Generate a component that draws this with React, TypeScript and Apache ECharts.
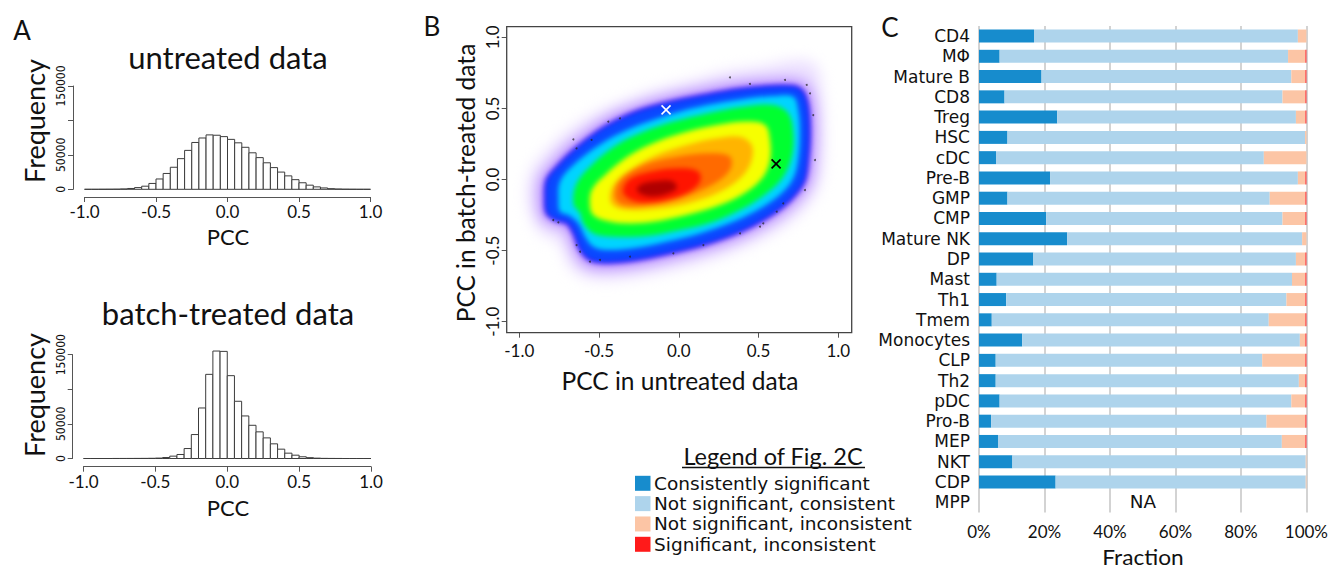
import React, { useEffect, useRef } from "react";
import * as echarts from "echarts";

// ---------- Panel A: histograms ----------
const BIN_WIDTH = 0.05;
const BIN_STARTS = [
  -1.0, -0.95, -0.9, -0.85, -0.8, -0.75, -0.7, -0.65, -0.6, -0.55,
  -0.5, -0.45, -0.4, -0.35, -0.3, -0.25, -0.2, -0.15, -0.1, -0.05,
  0.0, 0.05, 0.1, 0.15, 0.2, 0.25, 0.3, 0.35, 0.4, 0.45,
  0.5, 0.55, 0.6, 0.65, 0.7, 0.75, 0.8, 0.85, 0.9, 0.95,
];
const UNTREATED_COUNTS = [
  0, 0, 50, 100, 200, 500, 1200, 2500, 4500, 8500,
  15000, 23000, 32000, 44500, 56500, 68000, 74500, 79000, 78500, 76500,
  72500, 67500, 61000, 53000, 46000, 38500, 31500, 25000, 19500, 14000,
  9500, 6000, 3500, 2000, 900, 400, 150, 50, 0, 0,
];
const BATCH_COUNTS = [
  0, 0, 0, 0, 50, 80, 100, 150, 200, 300,
  600, 1400, 3400, 5800, 14400, 34600, 73000, 121600, 155300, 154800,
  119700, 82700, 61500, 48000, 38500, 29800, 21200, 13500, 7700, 4800,
  2500, 1200, 500, 200, 100, 50, 0, 0, 0, 0,
];
const FREQ_TICK_LABELS = ["0", "50000", "", "150000"];

// ---------- Panel B: density contours (data coordinates) ----------
const HAZE = [
  [-0.95, -0.15], [-0.93, 0.05], [-0.85, 0.18], [-0.72, 0.32], [-0.55, 0.45], [-0.35, 0.55],
  [-0.15, 0.63], [0.1, 0.7], [0.3, 0.76], [0.55, 0.8], [0.75, 0.84], [0.86, 0.8], [0.9, 0.6],
  [0.91, 0.3], [0.9, 0.05], [0.85, -0.12], [0.75, -0.25], [0.6, -0.37], [0.4, -0.48],
  [0.15, -0.58], [-0.1, -0.65], [-0.35, -0.7], [-0.55, -0.7], [-0.68, -0.62], [-0.75, -0.45],
  [-0.88, -0.36],
];
const PURPLE = [
  [-0.88, -0.15], [-0.87, 0.0], [-0.8, 0.11], [-0.69, 0.24], [-0.54, 0.37], [-0.41, 0.46],
  [-0.25, 0.53], [-0.06, 0.59], [0.15, 0.64], [0.36, 0.68], [0.57, 0.7], [0.73, 0.7],
  [0.81, 0.66], [0.85, 0.52], [0.86, 0.33], [0.85, 0.14], [0.83, -0.01], [0.77, -0.12],
  [0.68, -0.22], [0.55, -0.32], [0.37, -0.42], [0.16, -0.5], [-0.05, -0.56], [-0.26, -0.61],
  [-0.46, -0.63], [-0.58, -0.61], [-0.65, -0.52], [-0.69, -0.4], [-0.72, -0.34], [-0.79, -0.32],
  [-0.86, -0.27],
];
const BLUE = [
  [-0.839, -0.144], [-0.829, -0.003], [-0.766, 0.09], [-0.661, 0.207], [-0.515, 0.336],
  [-0.39, 0.418], [-0.243, 0.489], [-0.055, 0.547], [0.154, 0.594], [0.363, 0.634],
  [0.572, 0.657], [0.718, 0.657], [0.78, 0.618], [0.812, 0.512], [0.822, 0.325],
  [0.812, 0.137], [0.791, -0.004], [0.739, -0.097], [0.655, -0.191], [0.53, -0.285],
  [0.363, -0.379], [0.154, -0.461], [-0.055, -0.519], [-0.264, -0.566], [-0.452, -0.585],
  [-0.557, -0.566], [-0.619, -0.496], [-0.661, -0.379], [-0.703, -0.308], [-0.776, -0.285],
  [-0.829, -0.238],
];
const CYAN = [
  [-0.755, -0.156], [-0.745, -0.015], [-0.661, 0.102], [-0.515, 0.231], [-0.369, 0.325],
  [-0.222, 0.395], [-0.034, 0.465], [0.175, 0.524], [0.384, 0.563], [0.593, 0.587],
  [0.718, 0.582], [0.749, 0.489], [0.76, 0.325], [0.749, 0.137], [0.718, 0.008],
  [0.655, -0.086], [0.53, -0.191], [0.342, -0.297], [0.133, -0.379], [-0.076, -0.438],
  [-0.285, -0.484], [-0.452, -0.496], [-0.536, -0.473], [-0.588, -0.402], [-0.63, -0.308],
  [-0.692, -0.25], [-0.745, -0.226],
];
const GREEN = [
  [-0.661, -0.168], [-0.64, -0.027], [-0.536, 0.113], [-0.39, 0.243], [-0.222, 0.336],
  [-0.034, 0.407], [0.175, 0.465], [0.405, 0.512], [0.593, 0.524], [0.687, 0.465],
  [0.718, 0.325], [0.708, 0.16], [0.655, 0.02], [0.551, -0.097], [0.405, -0.203],
  [0.217, -0.297], [0.008, -0.355], [-0.201, -0.397], [-0.41, -0.402], [-0.536, -0.379],
  [-0.599, -0.308], [-0.619, -0.238],
];
const YELLOW = [
  [-0.557, -0.191], [-0.546, -0.074], [-0.452, 0.043], [-0.306, 0.172], [-0.139, 0.266],
  [0.049, 0.336], [0.238, 0.383], [0.426, 0.407], [0.541, 0.383], [0.572, 0.278],
  [0.572, 0.137], [0.53, 0.02], [0.426, -0.086], [0.259, -0.18], [0.049, -0.25],
  [-0.16, -0.297], [-0.348, -0.308], [-0.473, -0.285], [-0.536, -0.25],
];
const ORANGE = [
  [-0.431, -0.144], [-0.41, -0.039], [-0.306, 0.067], [-0.139, 0.172], [0.049, 0.243],
  [0.238, 0.29], [0.384, 0.301], [0.457, 0.243], [0.457, 0.137], [0.405, 0.032],
  [0.28, -0.074], [0.091, -0.156], [-0.118, -0.203], [-0.306, -0.215], [-0.4, -0.191],
];
const ORANGE_RED = [
  [-0.4, -0.121], [-0.369, -0.004], [-0.222, 0.102], [-0.013, 0.16], [0.196, 0.184],
  [0.321, 0.16], [0.321, 0.067], [0.207, -0.039], [0.008, -0.133], [-0.201, -0.18],
  [-0.348, -0.18],
];
const RED = [
  [-0.348, -0.097], [-0.316, -0.004], [-0.181, 0.055], [0.008, 0.079], [0.123, 0.055],
  [0.133, -0.015], [0.049, -0.097], [-0.118, -0.156], [-0.264, -0.156],
];
const DARK_RED = [
  [-0.264, -0.074], [-0.222, -0.027], [-0.118, -0.008], [-0.034, -0.015], [-0.013, -0.062],
  [-0.097, -0.109], [-0.201, -0.116],
];
const OUTLIERS = [
  [-0.661, 0.282], [-0.641, 0.219], [-0.547, 0.278], [-0.442, 0.407], [-0.369, 0.43],
  [0.321, 0.718], [0.446, 0.672], [0.666, 0.7], [0.802, 0.665], [0.823, 0.606],
  [0.843, 0.453], [0.854, 0.137], [0.791, -0.074], [0.655, -0.168], [0.614, -0.226],
  [0.53, -0.308], [0.509, -0.332], [0.384, -0.379], [0.154, -0.461], [-0.034, -0.519],
  [-0.306, -0.543], [-0.494, -0.566], [-0.557, -0.578], [-0.641, -0.461], [-0.619, -0.508],
  [-0.787, -0.285], [-0.755, -0.301],
];
const MARKERS = [
  [-0.08, 0.49],
  [0.61, 0.11],
];

// ---------- Panel C: stacked fractions (%) ----------
const CELL_TYPES = [
  "CD4", "MΦ", "Mature B", "CD8", "Treg", "HSC", "cDC", "Pre-B", "GMP", "CMP", "Mature NK", "DP",
  "Mast", "Th1", "Tmem", "Monocytes", "CLP", "Th2", "pDC", "Pro-B", "MEP", "NKT", "CDP", "MPP",
];
const CONSISTENTLY_SIG = [16.8, 6.3, 19.1, 7.8, 23.9, 8.7, 5.2, 21.7, 8.7, 20.5, 26.9, 16.6, 5.4, 8.3, 3.9, 13.2, 5.1, 5.1, 6.3, 3.7, 5.8, 10.2, 23.4, null];
const NOT_SIG_CONSISTENT = [80.6, 88.1, 76.3, 84.9, 72.9, 90.9, 81.8, 75.7, 80.1, 72.2, 71.8, 80.2, 90.2, 85.6, 84.6, 84.8, 81.4, 92.6, 89.1, 84.1, 86.7, 89.6, 76.4, null];
const NOT_SIG_INCONSISTENT = [2.6, 5.3, 4.3, 7.0, 2.9, 0.4, 13.0, 2.3, 10.9, 7.0, 1.3, 2.9, 4.1, 5.8, 11.2, 1.7, 13.2, 2.0, 4.3, 11.9, 7.2, 0.2, 0.2, null];
const SIG_INCONSISTENT = [0, 0.3, 0.3, 0.3, 0.3, 0, 0, 0.3, 0.3, 0.3, 0, 0.3, 0.3, 0.3, 0.3, 0.3, 0.3, 0.3, 0.3, 0.3, 0.3, 0, 0, null];
const LEGEND_LABELS = [
  "Consistently significant",
  "Not significant, consistent",
  "Not significant, inconsistent",
  "Significant, inconsistent",
];

const FONT = "Lato, 'Open Sans', sans-serif";
const DENSE = "'DejaVu Sans', Lato, sans-serif";
const NARROW = "'Liberation Sans Narrow', 'DejaVu Sans Condensed', Lato, sans-serif";
const TXT = "#111";
const AX = "#555";
const C_COLORS = ["#178ccd", "#aed4ec", "#fcc5a5", "#ff1a1a"];

const SOFT_LEVELS = [
  { pts: HAZE, fill: "#ece0ff", stroke: "none" },
  { pts: PURPLE, fill: "#b488ff", stroke: "none" },
];
const SHARP_LEVELS = [
  { pts: BLUE, fill: "#0a48ff", stroke: "#2a00f0" },
  { pts: CYAN, fill: "#00d4ff", stroke: "none" },
  { pts: GREEN, fill: "#00ff30", stroke: "none" },
  { pts: YELLOW, fill: "#f6ff00", stroke: "none" },
  { pts: ORANGE, fill: "#ffb400", stroke: "none" },
  { pts: ORANGE_RED, fill: "#ff6a00", stroke: "none" },
  { pts: RED, fill: "#ff1400", stroke: "none" },
  { pts: DARK_RED, fill: "#b00000", stroke: "none" },
];

const DENSITY_GRID = { left: 519.3, width: 319, top: 37.3, height: 284.4 };

function densityOption(levels: any[]) {
  return {
    animation: false,
    grid: [DENSITY_GRID],
    xAxis: [{ type: "value", min: -1, max: 1, show: false }],
    yAxis: [{ type: "value", min: -1, max: 1, show: false }],
    series: [
      {
        type: "custom",
        silent: true,
        data: levels.map((_: any, i: number) => [0, 0, i]),
        renderItem: (params: any, api: any) => {
          const L = levels[params.dataIndex];
          return {
            type: "polygon",
            shape: { points: L.pts.map((p: number[]) => api.coord(p)), smooth: 0.35 },
            style: { fill: L.fill, stroke: L.stroke, lineWidth: 2 },
          };
        },
      },
    ],
  };
}

function histSeries(counts: number[], idx: number) {
  return {
    type: "custom",
    xAxisIndex: idx,
    yAxisIndex: idx,
    silent: true,
    data: BIN_STARTS.map((s, i) => [s, counts[i]]),
    renderItem: (params: any, api: any) => {
      const x0 = api.value(0);
      const c = api.value(1);
      const a = api.coord([x0, c]);
      const b = api.coord([x0 + BIN_WIDTH, 0]);
      return {
        type: "rect",
        shape: { x: a[0], y: a[1], width: b[0] - a[0], height: b[1] - a[1] },
        style: { fill: "#fff", stroke: "#3c3c3c", lineWidth: 1 },
      };
    },
  };
}

function histAxes(idx: number, xOffset: number, yOffset: number) {
  return {
    x: {
      type: "value",
      gridIndex: idx,
      min: -1,
      max: 1,
      interval: 0.5,
      offset: xOffset,
      axisLine: { show: true, onZero: false, lineStyle: { color: AX, width: 1 } },
      axisTick: { show: true, length: 5, lineStyle: { color: AX } },
      axisLabel: { fontSize: 17, color: TXT, fontFamily: FONT, margin: 6, formatter: (v: number) => v.toFixed(1) },
      splitLine: { show: false },
    },
    y: {
      type: "value",
      gridIndex: idx,
      min: 0,
      max: 150000,
      interval: 50000,
      offset: yOffset,
      axisLine: { show: true, onZero: false, lineStyle: { color: AX, width: 1 } },
      axisTick: { show: true, length: 5, lineStyle: { color: AX } },
      axisLabel: {
        fontSize: 12,
        color: TXT,
        fontFamily: NARROW,
        rotate: 90,
        margin: 6,
        showMinLabel: true,
        showMaxLabel: true,
        formatter: (v: number) => FREQ_TICK_LABELS[Math.round(v / 50000)],
      },
      splitLine: { show: false },
    },
  };
}

function text(t: string, x: number, y: number, size: number, opts: any = {}) {
  return {
    type: "text",
    x,
    y,
    rotation: opts.rotation || 0,
    scaleX: opts.scaleX || 1,
    style: {
      text: t,
      fontSize: size,
      fontFamily: opts.font || FONT,
      fill: TXT,
      align: opts.align || "center",
      verticalAlign: "middle",
    },
  };
}

export default function App() {
  const ref = useRef<HTMLDivElement>(null);
  const softRef = useRef<HTMLDivElement>(null);
  const sharpRef = useRef<HTMLDivElement>(null);
  useEffect(() => {
    if (!ref.current || !softRef.current || !sharpRef.current) return;

    const soft = echarts.init(softRef.current, undefined, { renderer: "svg" });
    soft.setOption(densityOption(SOFT_LEVELS));
    const sharp = echarts.init(sharpRef.current, undefined, { renderer: "svg" });
    sharp.setOption(densityOption(SHARP_LEVELS));

    const chart = echarts.init(ref.current, undefined, { renderer: "svg" });
    const h0 = histAxes(0, 7.7, 11.5);
    const h1 = histAxes(1, 8.2, 10.8);

    const graphics: any[] = [
      text("A", 22, 30, 26),
      text("B", 432, 26, 26),
      text("C", 890, 27, 26),
      text("untreated data", 228, 57, 31),
      text("batch-treated data", 228, 313, 31),
      text("PCC", 228, 236, 22),
      text("PCC", 228, 507, 22),
      text("Frequency", 34, 121, 27, { rotation: Math.PI / 2 }),
      text("Frequency", 34, 395, 27, { rotation: Math.PI / 2 }),
      text("PCC in untreated data", 680, 380, 24.5),
      text("PCC in batch-treated data", 465, 183, 24.5, { rotation: Math.PI / 2 }),
      text("Fraction", 1143, 556.5, 21, { scaleX: 1.08 }),
      {
        type: "rect",
        shape: { x: 506.7, y: 26.7, width: 345, height: 306 },
        style: { fill: "none", stroke: "#444", lineWidth: 1.3 },
        z: 100,
      },
      text("Legend of Fig. 2C", 773, 456, 23.5),
      {
        type: "line",
        shape: { x1: 682, y1: 467.5, x2: 865, y2: 467.5 },
        style: { stroke: TXT, lineWidth: 1.5 },
      },
      text("NA", 1143, 502, 17, { font: DENSE, scaleX: 1.08 }),
    ];
    LEGEND_LABELS.forEach((l, i) => {
      const cy = 483.3 + i * 20.33;
      graphics.push({
        type: "rect",
        shape: { x: 635, y: cy - 7.5, width: 15.5, height: 15 },
        style: { fill: C_COLORS[i] },
      });
      graphics.push(text(l, 654, cy, 17, { align: "left", font: DENSE, scaleX: 1.09 }));
    });

    const barSeries = [CONSISTENTLY_SIG, NOT_SIG_CONSISTENT, NOT_SIG_INCONSISTENT, SIG_INCONSISTENT].map((d, i) => ({
      type: "bar",
      name: LEGEND_LABELS[i],
      xAxisIndex: 3,
      yAxisIndex: 3,
      stack: "frac",
      barWidth: 13,
      silent: true,
      itemStyle: { color: C_COLORS[i] },
      data: d,
    }));

    const option: any = {
      animation: false,
      backgroundColor: "transparent",
      textStyle: { fontFamily: FONT },
      grid: [
        { left: 84.5, width: 286, top: 86, height: 103.3 },
        { left: 83.5, width: 287.5, top: 354.7, height: 103.8 },
        DENSITY_GRID,
        { left: 979, width: 329, top: 25.9, height: 486.5 },
      ],
      xAxis: [
        h0.x,
        h1.x,
        {
          type: "value",
          gridIndex: 2,
          min: -1,
          max: 1,
          interval: 0.5,
          offset: 11,
          axisLine: { show: false, onZero: false },
          axisTick: { show: true, length: 5, lineStyle: { color: AX } },
          axisLabel: { fontSize: 17, color: TXT, margin: 9, formatter: (v: number) => v.toFixed(1) },
          splitLine: { show: false },
        },
        {
          type: "value",
          gridIndex: 3,
          min: 0,
          max: 100,
          interval: 20,
          axisLine: { show: false, onZero: false },
          axisTick: { show: false },
          axisLabel: { fontSize: 17, color: TXT, margin: 11, formatter: (v: number) => v + "%" },
          splitLine: { show: true, lineStyle: { color: "#c4c4c4", width: 1.5 } },
        },
      ],
      yAxis: [
        h0.y,
        h1.y,
        {
          type: "value",
          gridIndex: 2,
          min: -1,
          max: 1,
          interval: 0.5,
          offset: 12.6,
          axisLine: { show: false, onZero: false },
          axisTick: { show: true, length: 5, lineStyle: { color: AX } },
          axisLabel: { fontSize: 17, color: TXT, rotate: 90, margin: 6, formatter: (v: number) => v.toFixed(1) },
          splitLine: { show: false },
        },
        {
          type: "category",
          gridIndex: 3,
          data: CELL_TYPES,
          inverse: true,
          axisLine: { show: false, onZero: false },
          axisTick: { show: false },
          axisLabel: { fontSize: 17, fontFamily: DENSE, color: TXT, margin: 9, interval: 0 },
        },
      ],
      series: [
        histSeries(UNTREATED_COUNTS, 0),
        histSeries(BATCH_COUNTS, 1),
        {
          type: "scatter",
          xAxisIndex: 2,
          yAxisIndex: 2,
          silent: true,
          symbolSize: 2,
          itemStyle: { color: "#222", opacity: 0.7 },
          data: OUTLIERS,
        },
        {
          type: "custom",
          xAxisIndex: 2,
          yAxisIndex: 2,
          silent: true,
          z: 5,
          data: MARKERS,
          renderItem: (params: any, api: any) => {
            const p = api.coord([api.value(0), api.value(1)]);
            const col = params.dataIndex === 0 ? "#fff" : "#000";
            const s = 4.5;
            return {
              type: "group",
              children: [
                { type: "line", shape: { x1: p[0] - s, y1: p[1] - s, x2: p[0] + s, y2: p[1] + s }, style: { stroke: col, lineWidth: 1.6 } },
                { type: "line", shape: { x1: p[0] - s, y1: p[1] + s, x2: p[0] + s, y2: p[1] - s }, style: { stroke: col, lineWidth: 1.6 } },
              ],
            };
          },
        },
        ...barSeries,
      ],
      graphic: graphics,
    };
    chart.setOption(option);
    return () => {
      chart.dispose();
      soft.dispose();
      sharp.dispose();
    };
  }, []);
  const layer: any = { position: "absolute", left: 0, top: 0, width: 1331, height: 570 };
  return (
    <div style={{ position: "fixed", left: 0, top: 0, width: 1331, height: 570, background: "#fff", overflow: "hidden" }}>
      <div ref={softRef} style={{ ...layer, filter: "blur(7px)" }} />
      <div ref={sharpRef} style={{ ...layer, filter: "blur(2.5px)" }} />
      <div ref={ref} style={layer} />
    </div>
  );
}
